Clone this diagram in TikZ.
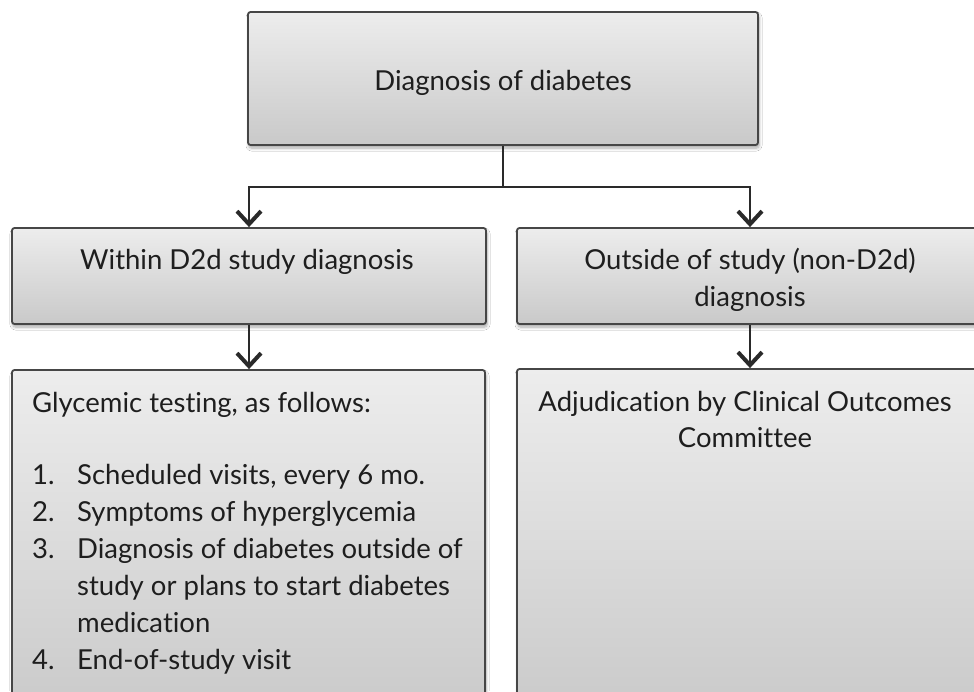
\documentclass[tikz,border=0pt]{standalone}
\usepackage{fontspec}
\setmainfont{Lato}[Ligatures={NoCommon}]
\usetikzlibrary{arrows.meta,shadows.blur}
\definecolor{boxline}{HTML}{464646}
\definecolor{linkc}{HTML}{2A2A2A}
\definecolor{gtop}{HTML}{EDEDED}
\definecolor{gbot}{HTML}{C9C9C9}
\definecolor{txt}{HTML}{1E1E1E}
\begin{document}
\begin{tikzpicture}[x=1pt,y=-1pt,
  box/.style={draw=boxline, line width=1.8pt, rounded corners=2.5pt,
    top color=gtop, bottom color=gbot, inner sep=0pt,
    blur shadow={shadow xshift=1pt, shadow yshift=-3pt,
      shadow blur radius=3pt, shadow blur steps=6, shadow opacity=35}},
  link/.style={draw=linkc, line width=1.8pt},
  tip/.style={-{Straight Barb[length=13pt,width=24pt,line width=4pt]}},
  lbl/.style={text=txt, inner sep=0pt, font=\fontsize{27.5}{37}\selectfont}]
\clip (0,0) rectangle (974,691);
\fill[white] (0,0) rectangle (974,691);

% boxes
\node[box, minimum width=510pt, minimum height=133pt] (diag) at (503,78.5) {};
\node[box, minimum width=474pt, minimum height=96pt] (within) at (249,276) {};
\node[box, minimum width=466pt, minimum height=96pt] (outside) at (750,276) {};
\node[box, minimum width=473pt, minimum height=350pt] (testing) at (248.5,545) {};
\node[box, minimum width=466pt, minimum height=351pt] (adjud) at (750,544.5) {};

% labels
\node[lbl, anchor=base] (tdiag) at (503,90) {Diagnosis of diabetes};
\node[lbl, anchor=base] (twithin) at (247,269) {Within D2d study diagnosis};
\node[lbl, anchor=base] (tout1) at (750,269) {Outside of study (non-D2d)};
\node[lbl, anchor=base] (tout2) at (750,306) {diagnosis};
\node[lbl, anchor=base] (tadj1) at (745,411) {Adjudication by Clinical Outcomes};
\node[lbl, anchor=base] (tadj2) at (745,447) {Committee};

\node[lbl, anchor=base west] (g0) at (32,412) {Glycemic testing, as follows:};
\node[lbl, anchor=base west] (n1) at (32,484) {1.};
\node[lbl, anchor=base west] (g1) at (77,484) {Scheduled visits, every 6 mo.};
\node[lbl, anchor=base west] (n2) at (32,521) {2.};
\node[lbl, anchor=base west] (g2) at (77,521) {Symptoms of hyperglycemia};
\node[lbl, anchor=base west] (n3) at (32,558) {3.};
\node[lbl, anchor=base west] (g3) at (77,558) {Diagnosis of diabetes outside of};
\node[lbl, anchor=base west] (g3b) at (77,595) {study or plans to start diabetes};
\node[lbl, anchor=base west] (g3c) at (77,632) {medication};
\node[lbl, anchor=base west] (n4) at (32,669) {4.};
\node[lbl, anchor=base west] (g4) at (77,669) {End-of-study visit};

% connectors
\coordinate (split) at (503,187);
\draw[link] (diag.south) -- (split);
\draw[link, tip] (split) -| (within.north);
\draw[link, tip] (split) -| (outside.north);
\draw[link, tip] (within.south) -- (within.south |- testing.north);
\draw[link, tip] (outside.south) -- (outside.south |- adjud.north);
\end{tikzpicture}
\end{document}
